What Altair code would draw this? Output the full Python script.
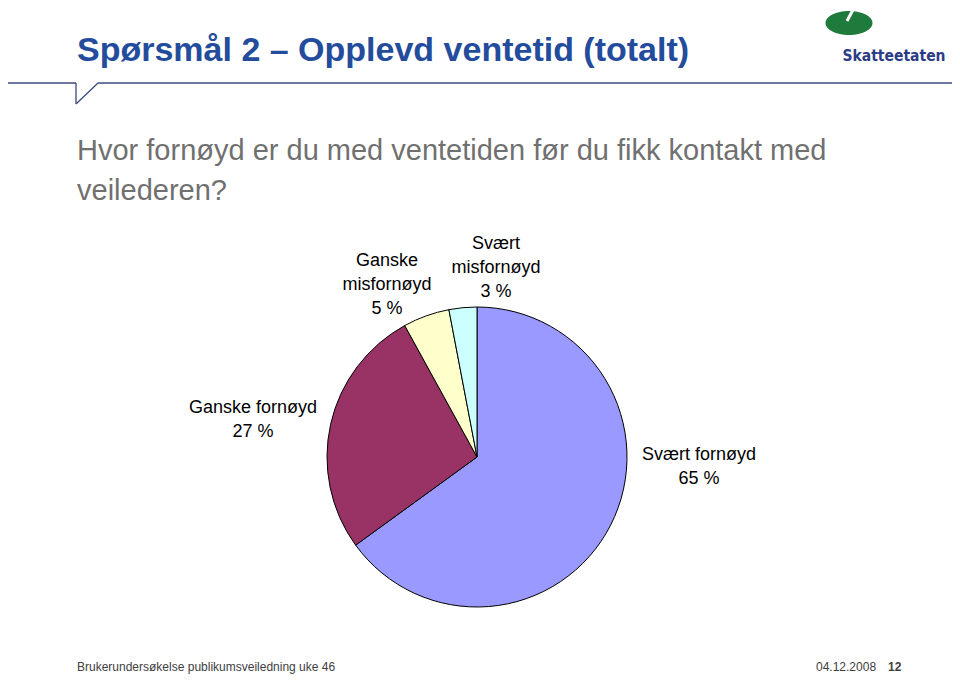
import altair as alt
import pandas as pd

# ---- data ----
categories = ["Svært fornøyd", "Ganske fornøyd", "Ganske misfornøyd", "Svært misfornøyd"]
values = [65, 27, 5, 3]
colors = ["#9999FF", "#993366", "#FFFFCC", "#CCFFFF"]
label_texts = ["Svært fornøyd\n65 %", "Ganske fornøyd\n27 %", "Ganske\nmisfornøyd\n5 %", "Svært\nmisfornøyd\n3 %"]

title_text = "Spørsmål 2 – Opplevd ventetid (totalt)"
subtitle_text = "Hvor fornøyd er du med ventetiden før du fikk kontakt med\nveilederen?"
footer_left = "Brukerundersøkelse publikumsveiledning uke 46"
footer_date = "04.12.2008"
footer_page = "12"
logo_text = "Skatteetaten"

df = pd.DataFrame({"category": categories, "value": values, "order": list(range(len(categories)))})
one = alt.Data(values=[{}])

W, H = 944, 667
FONT = "Liberation Sans"

pie = alt.Chart(df).mark_arc(radius=150, stroke="black", strokeWidth=1).encode(
    theta=alt.Theta("value:Q", stack=True),
    order=alt.Order("order:Q"),
    color=alt.Color("category:N", scale=alt.Scale(domain=categories, range=colors), legend=None),
    x=alt.value(469),
    y=alt.value(449),
)

def txt(text, x, y, size, color="black", weight="normal", align="left", lh=None, font=FONT):
    kw = dict(text=text, fontSize=size, color=color, fontWeight=weight, align=align,
              baseline="alphabetic", font=font, lineBreak="\n")
    if lh:
        kw["lineHeight"] = lh
    return alt.Chart(one).mark_text(**kw).encode(x=alt.value(x), y=alt.value(y))

def seg(x1, y1, x2, y2, color="#3C4A80", w=1.3):
    return alt.Chart(one).mark_rule(color=color, strokeWidth=w).encode(
        x=alt.value(x1), y=alt.value(y1), x2=alt.value(x2), y2=alt.value(y2))

label_pos = [(691, 452), (245, 405), (379, 258), (488, 241)]
labels = [txt(t, px, py, 18, align="center", lh=24) for t, (px, py) in zip(label_texts, label_pos)]

title = txt(title_text, 69, 53, 34, color="#244C9C", weight="bold")
subtitle = txt(subtitle_text, 69, 152, 29, color="#707070", lh=40)

lines = [
    seg(0, 75, 68, 75),
    seg(68, 75, 68, 96),
    seg(68, 96, 90, 75),
    seg(90, 75, 944, 75),
]

logo_shape = "M -1 0 A 1 0.51 0 1 0 1 0 A 1 0.51 0 1 0 -1 0 Z"
logo = alt.Chart(one).mark_point(shape=logo_shape, filled=True, color="#1E7B3C", size=2209, opacity=1,
                                 strokeWidth=0).encode(x=alt.value(841), y=alt.value(15))
slit = seg(846, 0, 839, 13, color="white", w=3)
logo_t = txt(logo_text, 886, 53, 15.5, color="#2B3C84", weight="bold", align="center",
             font="DejaVu Sans Condensed")

footer1 = txt(footer_left, 69, 663, 12, color="#404040")
footer2 = txt(footer_date, 808, 663, 12, color="#404040")
footer3 = txt(footer_page, 880, 663, 12, color="#404040", weight="bold")

chart = alt.layer(
    pie, *labels, title, subtitle, *lines, logo, slit, logo_t, footer1, footer2, footer3
).properties(
    width=W, height=H, autosize=alt.AutoSizeParams(type="none"), padding=0, background="white"
).configure_view(strokeWidth=0)

chart.save("out.html", embed_options={"renderer": "svg", "actions": False})
